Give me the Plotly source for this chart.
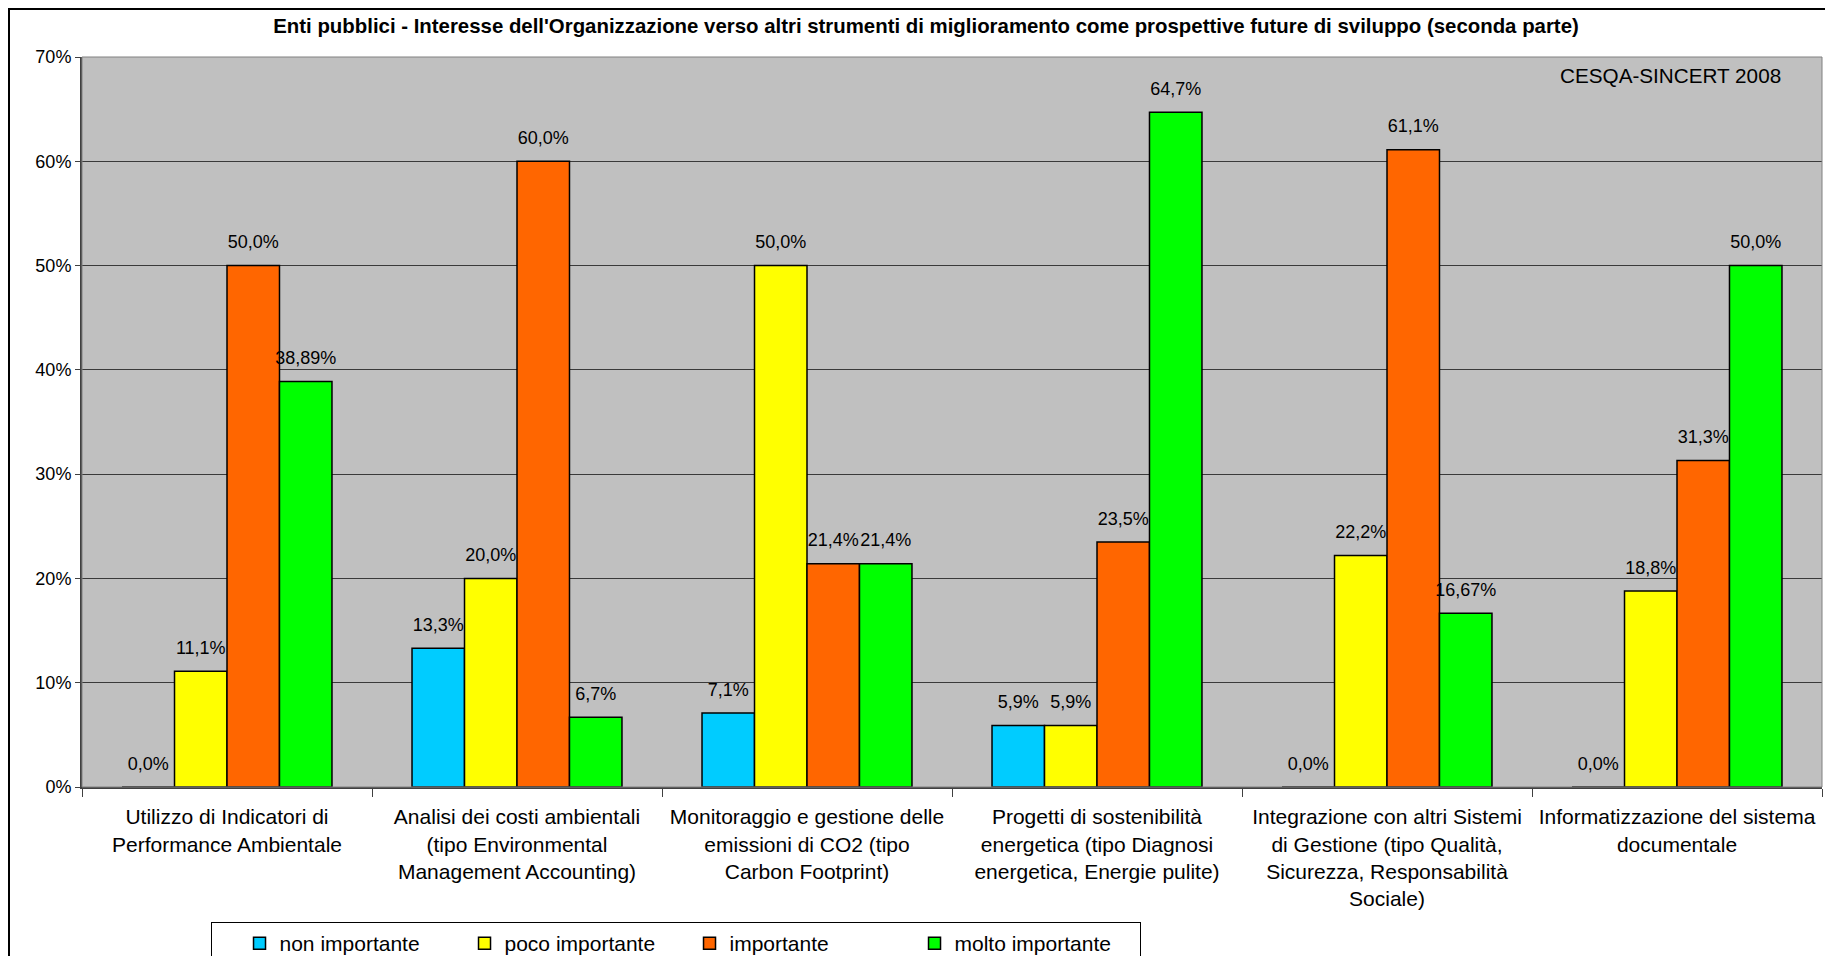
import plotly.graph_objects as go

categories = [
    "Utilizzo di Indicatori di<br>Performance Ambientale",
    "Analisi dei costi ambientali<br>(tipo Environmental<br>Management Accounting)",
    "Monitoraggio e gestione delle<br>emissioni di CO2 (tipo<br>Carbon Footprint)",
    "Progetti di sostenibilità<br>energetica (tipo Diagnosi<br>energetica, Energie pulite)",
    "Integrazione con altri Sistemi<br>di Gestione (tipo Qualità,<br>Sicurezza, Responsabilità<br>Sociale)",
    "Informatizzazione del sistema<br>documentale",
]

series_names = ["non importante", "poco importante", "importante", "molto importante"]
non_importante = [0.0, 13.3, 7.1, 5.9, 0.0, 0.0]
poco_importante = [11.1, 20.0, 50.0, 5.9, 22.2, 18.8]
importante = [50.0, 60.0, 21.4, 23.5, 61.1, 31.3]
molto_importante = [38.89, 6.7, 21.4, 64.7, 16.67, 50.0]
series_values = [non_importante, poco_importante, importante, molto_importante]
series_colors = ["#00CCFF", "#FFFF00", "#FF6600", "#00FF00"]

y_tickvals = [0, 10, 20, 30, 40, 50, 60, 70]
y_ticktext = [f"{v}%" for v in y_tickvals]

FONT = "Liberation Sans, Arial, sans-serif"


def fmt(v):
    dec = 2 if abs(v * 10 - round(v * 10)) > 1e-9 else 1
    return f"{v:.{dec}f}".replace(".", ",") + "%"


fig = go.Figure()
for name, vals, col in zip(series_names, series_values, series_colors):
    fig.add_trace(go.Bar(
        x=categories, y=vals, name=name,
        marker=dict(color=col, line=dict(color="black", width=1.5)),
        offsetgroup=name, hoverinfo="skip",
    ))
for name, vals in zip(series_names, series_values):
    fig.add_trace(go.Scatter(
        x=categories, y=vals, mode="markers+text",
        text=[fmt(v) for v in vals], textposition="top center",
        textfont=dict(family=FONT, size=18, color="black"),
        marker=dict(size=19, opacity=0),
        offsetgroup=name, showlegend=False, hoverinfo="skip", cliponaxis=False,
    ))

# page body has an 8px margin: figure coordinates = screen coordinates - 8
W, H = 1817, 948
L, T = 74, 49
R = W - 1814
B = H - 779
pw, ph = W - L - R, H - T - B


def px(x):
    return (x - L) / pw


def py(y):
    return (H - B - y) / ph


fig.update_layout(
    width=W, height=H,
    margin=dict(l=L, r=R, t=T, b=B, pad=0, autoexpand=False),
    paper_bgcolor="white", plot_bgcolor="#C0C0C0",
    barmode="group", bargap=0.276, bargroupgap=0,
    scattermode="group", scattergap=0.276,
    font=dict(family=FONT, color="black"),
    title=dict(
        text="<b>Enti pubblici - Interesse dell'Organizzazione verso altri strumenti di miglioramento come prospettive future di sviluppo (seconda parte)</b>",
        font=dict(family=FONT, size=20.4, color="black"),
        x=918 / W, xanchor="center", xref="container",
        y=1 - 18 / H, yanchor="middle", yref="container",
    ),
    xaxis=dict(
        type="category", tickson="boundaries", ticks="outside", ticklen=8,
        tickcolor="#404040", tickwidth=1, automargin=False,
        showline=True, linecolor="#404040", linewidth=2,
        showgrid=False, tickfont=dict(family=FONT, size=21, color="black"),
        tickangle=0, ticklabelstandoff=10,
    ),
    yaxis=dict(
        range=[0, 70], tickmode="array", tickvals=y_tickvals, ticktext=y_ticktext,
        ticks="outside", ticklen=5, tickcolor="#404040", automargin=False,
        showline=True, linecolor="#404040", linewidth=2,
        showgrid=True, gridcolor="#3a3a3a", gridwidth=1, zeroline=False,
        tickfont=dict(family=FONT, size=18, color="black"),
    ),
    legend=dict(
        orientation="h", x=px(203), xanchor="left", y=py(914), yanchor="top",
        bgcolor="white", bordercolor="black", borderwidth=1,
        font=dict(family=FONT, size=21, color="black"),
        entrywidth=180, entrywidthmode="pixels",
        title=dict(text="\u00a0\u00a0\u00a0", side="left", font=dict(family=FONT, size=21)),
    ),
    annotations=[dict(
        text="CESQA-SINCERT 2008", xref="paper", yref="paper",
        x=px(1775), y=py(68), xanchor="right", yanchor="middle", showarrow=False,
        font=dict(family=FONT, size=20.7, color="black"),
    )],
    shapes=[
        dict(type="rect", xref="paper", yref="paper", x0=0, x1=1, y0=0, y1=1,
             line=dict(color="#808080", width=1), layer="above"),
        dict(type="rect", xref="paper", yref="paper", x0=px(1), x1=px(W + 40), y0=py(1), y1=py(H + 40),
             line=dict(color="black", width=2), layer="below"),
    ],
)

fig.write_html("out.html")
